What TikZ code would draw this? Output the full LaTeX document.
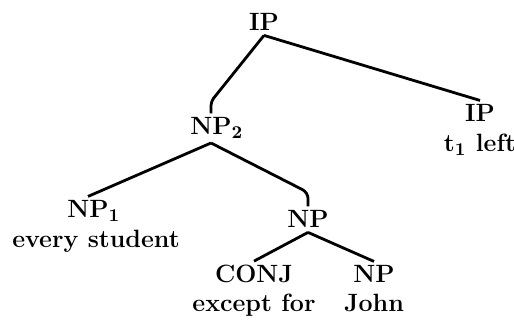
\documentclass[tikz,border=0pt]{standalone}
\usepackage{amsmath}
\usepackage{tikz}

\begin{document}
\begin{tikzpicture}[x=0.5pt, y=-0.5pt, line width=1.4pt, line join=round,
  cat/.style={anchor=base, inner sep=1.5pt, font=\fontsize{12.5}{15}\selectfont\bfseries\boldmath},
  word/.style={anchor=base, inner sep=1pt, font=\fontsize{12.5}{15}\selectfont\bfseries\boldmath}]
\useasboundingbox (0,0) rectangle (514,320);
\node[cat] (ip) at (264,31) {IP};
\node[cat] (np2) at (211,135) {NP\rlap{$_2$}};
\node[cat] (ipr) at (480,122) {IP};
\node[word] (ipw) at (480,152) {t$_1$ left};
\node[cat] (np1) at (88,218) {NP\rlap{$_1$}};
\node[word] (np1w) at (96,248) {every student};
\node[cat] (np) at (308,228) {NP};
\node[cat] (conj) at (254,283) {CONJ};
\node[word] (conjw) at (254,312) {except for};
\node[cat] (npj) at (374,283) {NP};
\node[word] (npjw) at (374,312) {John};
\draw[rounded corners=2pt] (ip.south) -- ([yshift=6pt]np2.north) -- (np2.north);
\draw (ip.south) -- (ipr.north);
\draw (np2.south) -- (np1.north);
\draw[rounded corners=3pt] (np2.south) -- ([yshift=7pt]np.north) -- (np.north);
\draw (np.south) -- (conj.north);
\draw (np.south) -- (npj.north);
\end{tikzpicture}
\end{document}
